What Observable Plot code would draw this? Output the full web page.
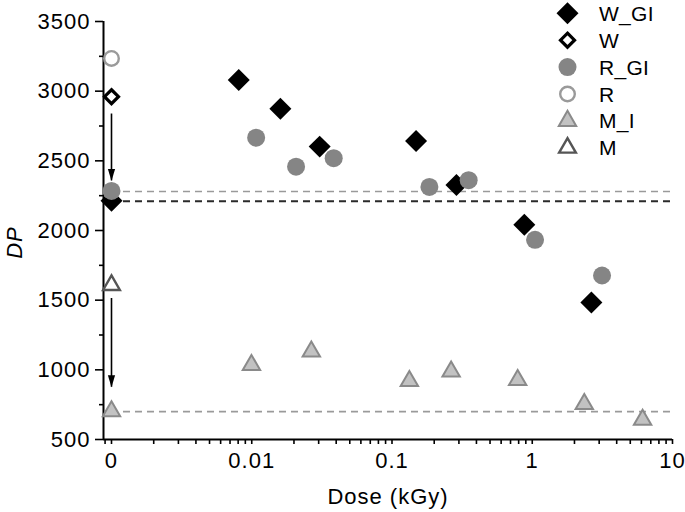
<!DOCTYPE html>
<html><head><meta charset="utf-8">
<script src="https://cdn.jsdelivr.net/npm/d3@7"></script>
<script src="https://cdn.jsdelivr.net/npm/@observablehq/plot@0.6"></script>
<style>
body{margin:0;background:#fff;}
#wrap{position:relative;width:685px;height:512px;}
#legend{position:absolute;left:0;top:0;pointer-events:none;overflow:visible;}
</style></head><body>
<div id="wrap"></div>
<script>
// dose 0 is drawn at this position on the log axis (labelled "0")
const ZERO_POS = 0.001;

// ---- data (dose in kGy, degree of polymerisation DP) ----
const wGIDose = [0, 0.00808, 0.0160, 0.0305, 0.1485, 0.288, 0.878, 2.64];
const wGIDP   = [2213, 3080, 2874, 2602, 2643, 2327, 2041, 1484];
const wDose   = [0];
const wDP     = [2960];
const rGIDose = [0, 0.01075, 0.0207, 0.0384, 0.1848, 0.352, 1.047, 3.145];
const rGIDP   = [2284, 2666, 2458, 2519, 2313, 2361, 1933, 1677];
const rDose   = [0];
const rDP     = [3235];
const mIDose  = [0, 0.00995, 0.0266, 0.133, 0.264, 0.787, 2.35, 6.12];
const mIDP    = [702, 1035, 1131, 920, 988, 927, 755, 641];
const mDose   = [0];
const mDP     = [1608];

// reference (dashed) lines
const refNames = ["R_GI0", "W_GI0", "M_I0"];
const refDP    = [2280, 2210, 700];
const refFrom  = [0, 0, 0];
const refTo    = [10, 10, 10];

// arrows at dose 0
const arrowDose = [0, 0];
const arrowFrom = [2836, 1512];
const arrowTo   = [2356, 875];

// axes
const xTicks = [0.001, 0.01, 0.1, 1, 10];
const xTickLabels = ["0", "0.01", "0.1", "1", "10"];
const xMinorTicks = [0.0009].concat([0.001, 0.01, 0.1, 1].flatMap(d => [2,3,4,5,6,7,8,9].map(k => +(k*d).toPrecision(3))));
const yTicks = [500, 1000, 1500, 2000, 2500, 3000, 3500];
const yMinorTicks = [750, 1250, 1750, 2250, 2750, 3250];
const xDomain = [0.000877, 10];
const yDomain = [500, 3500];

// ---- build tables ----
const rows = (dose, dp) => dose.map((d, i) => ({dose: d, dp: dp[i]}));
const pos = d => d === 0 ? ZERO_POS : d;
const wGI = rows(wGIDose, wGIDP), w = rows(wDose, wDP);
const rGI = rows(rGIDose, rGIDP), r = rows(rDose, rDP);
const mI = rows(mIDose, mIDP), m = rows(mDose, mDP);
const refs = refNames.map((n, i) => ({name: n, dp: refDP[i], from: refFrom[i], to: refTo[i]}));
const arrows = arrowDose.map((d, i) => ({dose: d, from: arrowFrom[i], to: arrowTo[i]}));

// series styles
const S = {
  W_GI: {symbol: "diamond2", r: 9.9, fill: "#000", stroke: "none", strokeWidth: 0},
  W:    {symbol: "diamond2", r: 6.3, fill: "#fff", stroke: "#000", strokeWidth: 3.2},
  R_GI: {symbol: "circle",   r: 9,   fill: "#858585", stroke: "none", strokeWidth: 0},
  R:    {symbol: "circle",   r: 7.3, fill: "#fff", stroke: "#9a9a9a", strokeWidth: 2.4},
  M_I:  {symbol: "triangle2",r: 8.3, fill: "#c2c2c2", stroke: "#8a8a8a", strokeWidth: 2},
  M:    {symbol: "triangle2",r: 8.0, fill: "#fff", stroke: "#555", strokeWidth: 2.4}
};
const dotMark = (data, key) => Plot.dot(data, {x: d => pos(d.dose), y: "dp", ...S[key]});

// filled arrow head, tip at origin pointing down
const arrowHead = {draw(ctx) { ctx.moveTo(0, 0); ctx.lineTo(-3.6, -12); ctx.lineTo(3.6, -12); ctx.closePath(); }};

const chart = Plot.plot({
  width: 685, height: 512,
  marginLeft: 103, marginRight: 13, marginTop: 21, marginBottom: 73,
  x: {type: "log", domain: xDomain},
  y: {domain: yDomain},
  style: {fontFamily: "'Liberation Sans', Arial, Helvetica, sans-serif", fontSize: "22px", letterSpacing: "1px", color: "#000", background: "#fff", overflow: "visible"},
  marks: [
    Plot.ruleY(refs.filter(d => d.name !== "W_GI0"), {y: "dp", x1: d => pos(d.from), x2: d => pos(d.to), stroke: "#9a9a9a", strokeWidth: 1.6, strokeDasharray: "7,5"}),
    Plot.ruleY(refs.filter(d => d.name === "W_GI0"), {y: "dp", x1: d => pos(d.from), x2: d => pos(d.to), stroke: "#2a2a2a", strokeWidth: 1.8, strokeDasharray: "7,5"}),
    Plot.axisY({ticks: yMinorTicks, tickSize: 4, fill: "none", label: null, strokeWidth: 1.6}),
    Plot.axisY({ticks: yTicks, tickSize: 8, tickPadding: 5, tickFormat: d => String(d), label: null, strokeWidth: 1.6}),
    Plot.axisX({ticks: xMinorTicks, tickSize: 5, fill: "none", label: null, strokeWidth: 1.6}),
    Plot.axisX({ticks: xTicks, tickSize: 5, tickPadding: 8, tickFormat: d => xTickLabels[xTicks.indexOf(d)], label: null, strokeWidth: 1.6}),
    Plot.ruleX([xDomain[0]], {strokeWidth: 2}),
    Plot.ruleY([yDomain[0]], {strokeWidth: 2}),
    Plot.ruleX(arrows, {x: d => pos(d.dose), y1: "from", y2: "to", strokeWidth: 1.6}),
    Plot.dot(arrows, {x: d => pos(d.dose), y: "to", symbol: arrowHead, fill: "#000", stroke: "none"}),
    dotMark(m, "M"),
    dotMark(mI, "M_I"),
    dotMark(r, "R"),
    dotMark(w, "W"),
    dotMark(wGI, "W_GI"),
    dotMark(rGI, "R_GI"),
    Plot.text(["Dose (kGy)"], {text: d => d, frameAnchor: "bottom", textAnchor: "middle", lineAnchor: "middle", dy: 57}),
    Plot.text(["DP"], {text: d => d, frameAnchor: "left", textAnchor: "middle", lineAnchor: "middle", rotate: -90, dx: -89, dy: 12, fontStyle: "italic"})
  ]
});
document.getElementById("wrap").appendChild(chart);

// ---- legend ----
const legendKeys = ["W_GI", "W", "R_GI", "R", "M_I", "M"];
const symbolTypes = {diamond2: d3.symbolDiamond2, circle: d3.symbolCircle, triangle2: d3.symbolTriangle2};
const lg = d3.select("#wrap").append("svg").attr("id", "legend").attr("width", 685).attr("height", 512);
legendKeys.forEach((k, i) => {
  const s = S[k];
  const cy = 13.3 + i * 26.9;
  lg.append("path")
    .attr("d", d3.symbol(symbolTypes[s.symbol], Math.PI * s.r * s.r)())
    .attr("transform", `translate(567.5,${cy})`)
    .attr("fill", s.fill).attr("stroke", s.stroke).attr("stroke-width", s.strokeWidth);
  lg.append("text").text(k)
    .attr("x", 599).attr("y", cy).attr("dy", "0.36em")
    .attr("font-family", "'Liberation Sans', Arial, Helvetica, sans-serif")
    .attr("font-size", 21).attr("letter-spacing", "0.3px").attr("fill", "#000");
});
</script>
</body></html>
